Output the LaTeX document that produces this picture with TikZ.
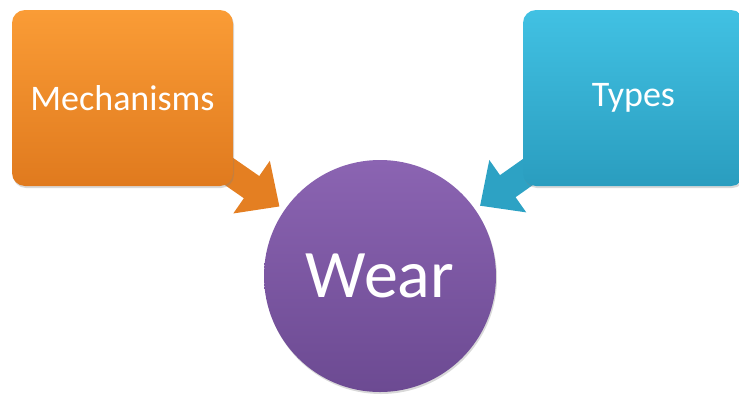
\documentclass[tikz,border=0pt]{standalone}
\usepackage{fontspec}
\setmainfont{Carlito}
\usetikzlibrary{arrows.meta,shadows,backgrounds}
\definecolor{orgT}{HTML}{FA9C36}
\definecolor{orgB}{HTML}{E07A1E}
\definecolor{bluT}{HTML}{41C1E3}
\definecolor{bluB}{HTML}{2A9DBF}
\definecolor{purT}{HTML}{8B64B2}
\definecolor{purB}{HTML}{6C4A92}
\tikzset{box/.style={rounded corners=13pt, minimum width=221pt, minimum height=176pt, inner sep=0pt, text=white, font=\fontsize{36}{40}\selectfont, drop shadow={opacity=0.3,shadow xshift=1pt,shadow yshift=-2pt}}}
\tikzset{hub/.style={circle, minimum size=232pt, inner sep=0pt, text=white, top color=purT, bottom color=purB, font=\fontsize{68}{72}\selectfont, drop shadow={opacity=0.3,shadow xshift=1pt,shadow yshift=-2pt}}}
\tikzset{blk/.style={line width=27pt, shorten <=-25pt, shorten >=6pt, -{Triangle[width=62pt,length=34pt]}}}

\begin{document}
\begin{tikzpicture}[x=1pt,y=-1pt]
\useasboundingbox (0,0) rectangle (739,394);
\node[hub] (wear) at (380,276) {Wear};
\node[box,top color=orgT,bottom color=orgB] (mech) at (122.5,98) {Mechanisms};
\node[box,top color=bluT,bottom color=bluB] (types) at (633.5,98) {Types};
\begin{scope}[on background layer]
\draw[blk,color=orgB!85!orgT] (mech)--(wear);
\draw[blk,color=bluB!85!bluT] (types)--(wear);
\end{scope}
\end{tikzpicture}
\end{document}
